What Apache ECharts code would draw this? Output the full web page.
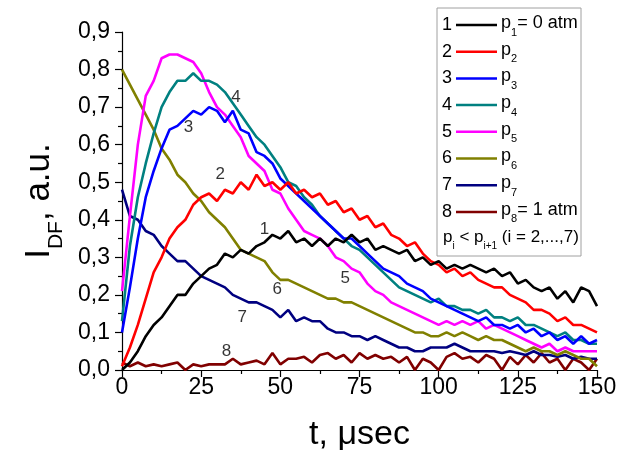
<!DOCTYPE html>
<html>
<head>
<meta charset="utf-8">
<script src="https://cdn.jsdelivr.net/npm/echarts@6/dist/echarts.min.js"></script>
<style>
  html, body { margin: 0; padding: 0; background: #fff; }
  #chart { width: 622px; height: 457px; }
</style>
</head>
<body>
<div id="chart"></div>
<script>
// Time axis: 0 .. 150 µs, one sample every 2.5 µs
const timeStep = 2.5;

// Delayed-fluorescence intensity for each pressure, p1 (0 atm) .. p8 (1 atm)
const curve1 = [0.00,0.02,0.05,0.09,0.12,0.14,0.17,0.20,0.20,0.23,0.25,0.27,0.28,0.31,0.30,0.32,0.31,0.33,0.34,0.36,0.35,0.37,0.34,0.35,0.33,0.35,0.33,0.35,0.34,0.36,0.34,0.35,0.32,0.33,0.32,0.31,0.32,0.29,0.30,0.28,0.29,0.27,0.28,0.27,0.28,0.27,0.26,0.27,0.25,0.26,0.23,0.24,0.22,0.21,0.22,0.19,0.21,0.18,0.22,0.21,0.17];
const curve2 = [0.01,0.06,0.12,0.19,0.26,0.30,0.35,0.38,0.40,0.44,0.46,0.47,0.45,0.48,0.47,0.50,0.48,0.52,0.49,0.50,0.48,0.50,0.47,0.48,0.46,0.47,0.44,0.45,0.42,0.43,0.40,0.41,0.38,0.39,0.36,0.35,0.33,0.34,0.31,0.29,0.28,0.26,0.27,0.25,0.26,0.24,0.23,0.22,0.22,0.20,0.19,0.18,0.16,0.16,0.15,0.13,0.14,0.12,0.12,0.11,0.10];
const curve3 = [0.10,0.22,0.35,0.46,0.53,0.59,0.64,0.65,0.67,0.69,0.68,0.70,0.69,0.66,0.69,0.64,0.63,0.58,0.57,0.55,0.51,0.49,0.47,0.45,0.43,0.41,0.39,0.37,0.35,0.35,0.33,0.31,0.29,0.27,0.26,0.25,0.23,0.22,0.21,0.19,0.18,0.17,0.16,0.15,0.14,0.13,0.14,0.12,0.12,0.11,0.12,0.10,0.11,0.09,0.10,0.08,0.09,0.07,0.09,0.07,0.08];
const curve4 = [0.13,0.33,0.46,0.55,0.63,0.70,0.74,0.77,0.77,0.79,0.77,0.77,0.76,0.74,0.71,0.68,0.65,0.62,0.60,0.57,0.54,0.50,0.49,0.46,0.44,0.41,0.39,0.37,0.35,0.33,0.32,0.30,0.28,0.26,0.24,0.22,0.21,0.20,0.19,0.18,0.19,0.17,0.17,0.16,0.16,0.15,0.16,0.14,0.14,0.13,0.14,0.12,0.12,0.11,0.10,0.09,0.10,0.08,0.08,0.07,0.07];
const curve5 = [0.21,0.41,0.60,0.73,0.77,0.83,0.84,0.84,0.83,0.82,0.79,0.74,0.70,0.68,0.65,0.62,0.57,0.55,0.53,0.48,0.47,0.43,0.40,0.37,0.36,0.35,0.33,0.30,0.29,0.27,0.26,0.23,0.21,0.20,0.18,0.17,0.16,0.15,0.14,0.13,0.12,0.13,0.12,0.13,0.12,0.13,0.11,0.12,0.11,0.10,0.09,0.08,0.07,0.06,0.07,0.05,0.06,0.05,0.05,0.05,0.05];
const curve6 = [0.80,0.76,0.72,0.68,0.64,0.59,0.56,0.52,0.50,0.47,0.45,0.42,0.40,0.38,0.35,0.32,0.31,0.30,0.29,0.26,0.24,0.24,0.23,0.22,0.21,0.20,0.19,0.19,0.18,0.18,0.17,0.16,0.15,0.14,0.13,0.12,0.11,0.10,0.10,0.09,0.09,0.10,0.09,0.10,0.09,0.08,0.09,0.08,0.08,0.07,0.06,0.05,0.06,0.05,0.05,0.04,0.05,0.04,0.03,0.03,0.01];
const curve7 = [0.48,0.41,0.40,0.37,0.36,0.33,0.31,0.29,0.29,0.27,0.25,0.24,0.23,0.22,0.20,0.19,0.18,0.18,0.17,0.16,0.14,0.16,0.13,0.14,0.13,0.13,0.11,0.10,0.10,0.09,0.09,0.08,0.09,0.08,0.07,0.06,0.06,0.05,0.05,0.06,0.06,0.06,0.07,0.06,0.05,0.05,0.05,0.05,0.045,0.05,0.045,0.04,0.05,0.04,0.04,0.035,0.04,0.03,0.035,0.03,0.03];
const curve8 = [0.02,0.01,0.02,0.01,0.015,0.01,0.015,0.02,0.00,0.015,0.01,0.015,0.015,0.015,0.03,0.015,0.02,0.025,0.015,0.045,0.015,0.03,0.03,0.035,0.02,0.04,0.045,0.03,0.04,0.02,0.045,0.03,0.04,0.03,0.035,0.02,0.035,0.00,0.03,0.02,0.00,0.035,0.045,0.03,0.035,0.02,0.04,0.03,0.00,0.035,0.015,0.04,0.02,0.045,0.02,0.03,0.00,0.03,0.02,0.00,0.03];

const curves = [curve1, curve2, curve3, curve4, curve5, curve6, curve7, curve8];
const curveColors = ['#000000','#ff0000','#0000ff','#008080','#ff00ff','#808000','#000080','#800000'];

// Curve number annotations: [t, intensity, number]
const curveTags = [[45,0.375,'1'],[31,0.52,'2'],[21,0.645,'3'],[36,0.725,'4'],[70.5,0.245,'5'],[49,0.215,'6'],[38,0.14,'7'],[33,0.05,'8']];

// Legend rows
const legendNums = ['1','2','3','4','5','6','7','8'];
const legendSubs = ['1','2','3','4','5','6','7','8'];
const legendTails = ['= 0 atm','','','','','','','= 1 atm'];

const FONT = '"Liberation Sans", Arial, sans-serif';

const series = curves.map((vals, i) => ({
  type: 'line',
  name: 'p' + (i + 1),
  data: vals.map((v, k) => [k * timeStep, v]),
  showSymbol: false,
  symbol: 'none',
  lineStyle: { color: curveColors[i], width: 2.6 },
  itemStyle: { color: curveColors[i] },
  z: 2 + (8 - i),
  animation: false
}));

series.push({
  type: 'scatter',
  data: curveTags,
  symbolSize: 0,
  z: 20,
  label: {
    show: true,
    position: 'inside',
    formatter: p => p.data[2],
    color: '#000',
    fontFamily: FONT,
    fontSize: 17
  },
  animation: false
});

// Legend box drawn as graphic elements
const legendX = 437, legendY = 8, legendW = 144, legendH = 248;
const rowY0 = 25, rowDy = 26.7;
const legendEls = [{
  type: 'rect',
  shape: { x: legendX, y: legendY, width: legendW, height: legendH },
  style: { fill: '#fff', stroke: '#a0a0a0', lineWidth: 1 },
  z: 30
}];
legendNums.forEach((n, i) => {
  const y = rowY0 + i * rowDy;
  legendEls.push({
    type: 'text', z: 31,
    style: { text: n, x: 447, y: y, align: 'center', verticalAlign: 'middle',
             font: '18px ' + FONT, fill: '#000' }
  });
  legendEls.push({
    type: 'line', z: 31,
    shape: { x1: 456, y1: y, x2: 497, y2: y },
    style: { stroke: curveColors[i], lineWidth: 2.5 }
  });
  legendEls.push({
    type: 'text', z: 31,
    style: {
      text: '{a|p}{s|' + legendSubs[i] + '}{a|' + legendTails[i] + '}',
      x: 501, y: y - 11, align: 'left', verticalAlign: 'top',
      rich: {
        a: { fontSize: 18, fontFamily: FONT, lineHeight: 22, verticalAlign: 'top', fill: '#000' },
        s: { fontSize: 11, fontFamily: FONT, lineHeight: 11, verticalAlign: 'top', padding: [13, 0, 0, 0], fill: '#000' }
      }
    }
  });
});
legendEls.push({
  type: 'text', z: 31,
  style: {
    text: '{a|p}{s|i}{a| < p}{s|i+1}{a| (i = 2,...,7)}',
    x: 443, y: rowY0 + 8 * rowDy - 10, align: 'left', verticalAlign: 'top',
    rich: {
      a: { fontSize: 17, fontFamily: FONT, lineHeight: 21, verticalAlign: 'top', fill: '#000' },
      s: { fontSize: 10, fontFamily: FONT, lineHeight: 10, verticalAlign: 'top', padding: [13, 0, 0, 0], fill: '#000' }
    }
  }
});

const chart = echarts.init(document.getElementById('chart'), null, { renderer: 'canvas' });
chart.setOption({
  backgroundColor: '#fff',
  animation: false,
  grid: { left: 122, right: 25, top: 32, bottom: 82, containLabel: false },
  xAxis: {
    type: 'value',
    min: 0, max: 150, interval: 25,
    splitLine: { show: false },
    axisLine: { show: true, onZero: false, lineStyle: { color: '#000', width: 1.2 } },
    axisTick: { show: true, inside: false, length: 7, lineStyle: { color: '#000', width: 1.2 } },
    minorTick: { show: true, splitNumber: 2, length: 4, lineStyle: { color: '#000', width: 1.2 } },
    axisLabel: { color: '#000', fontFamily: FONT, fontSize: 23, margin: 6 },
    name: 't, \u03bcsec',
    nameLocation: 'middle',
    nameGap: 48,
    nameTextStyle: { color: '#000', fontFamily: FONT, fontSize: 34 }
  },
  yAxis: {
    type: 'value',
    min: 0, max: 0.9, interval: 0.1,
    splitLine: { show: false },
    axisLine: { show: true, onZero: false, lineStyle: { color: '#000', width: 1.2 } },
    axisTick: { show: true, inside: false, length: 7, lineStyle: { color: '#000', width: 1.2 } },
    minorTick: { show: true, splitNumber: 2, length: 4, lineStyle: { color: '#000', width: 1.2 } },
    axisLabel: {
      color: '#000', fontFamily: FONT, fontSize: 23, margin: 12,
      formatter: v => v.toFixed(1).replace('.', ',')
    },
    name: '{a|I}{s|DF}{a|, a.u.}',
    nameLocation: 'middle',
    nameRotate: 90,
    nameGap: 53,
    nameTextStyle: {
      rich: {
        a: { fontSize: 35, fontFamily: FONT, color: '#000', lineHeight: 40, verticalAlign: 'top' },
        s: { fontSize: 21, fontFamily: FONT, color: '#000', lineHeight: 21, verticalAlign: 'top', padding: [24, 0, 0, 0] }
      }
    }
  },
  graphic: legendEls,
  series: series
});
</script>
</body>
</html>
